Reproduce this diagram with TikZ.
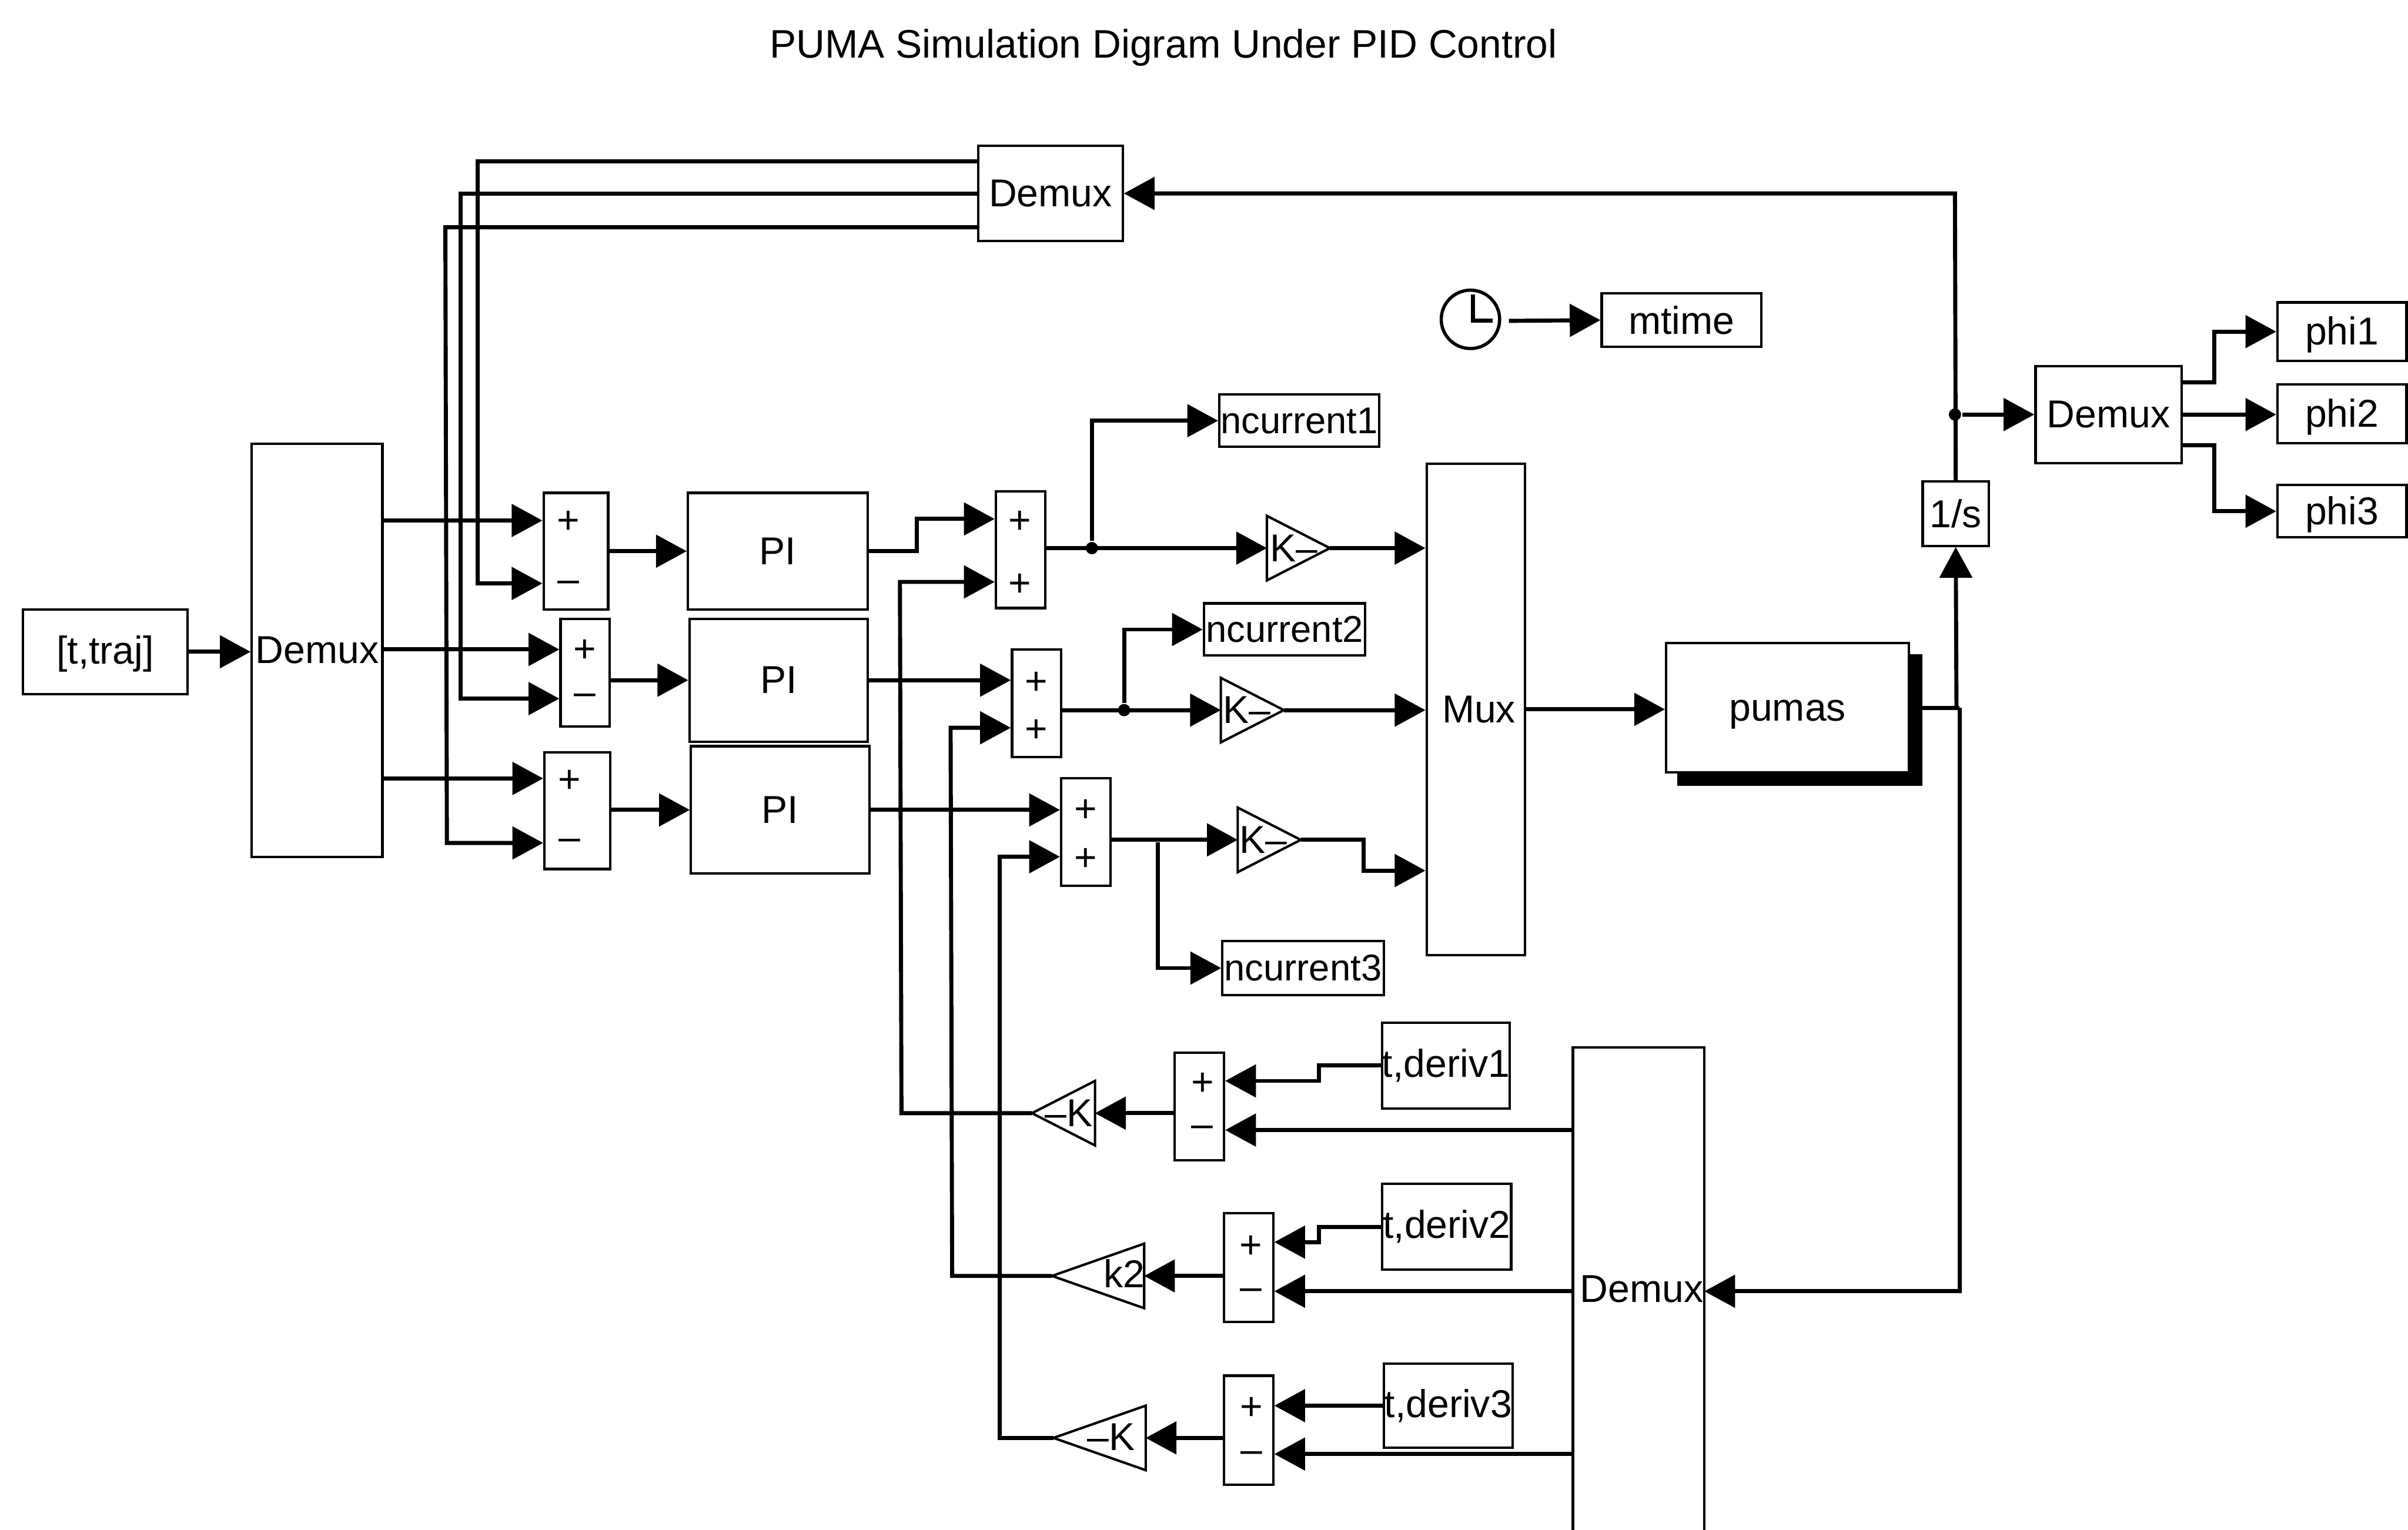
\documentclass[tikz,border=0pt]{standalone}
\usepackage{fontspec}
\setmainfont{Liberation Sans}
\usetikzlibrary{positioning, arrows.meta, shapes.geometric}
\tikzset{
    blockbox/.style={draw, fill=white, line width=0.45pt, inner sep=0pt, font=\fontsize{7.2}{8}\selectfont},
    curbox/.style={blockbox, font=\fontsize{6.9}{8}\selectfont},
    phibox/.style={blockbox, text height=0.17cm, text depth=0pt},
    plainlabel/.style={inner sep=0pt, font=\fontsize{7.2}{8}\selectfont},
    feed/.style={line width=0.75pt},
    wire/.style={line width=0.75pt, -{Triangle[length=0.2cm, width=0.21cm]}},
    junction/.style={circle, fill=black, inner sep=0pt, minimum size=0.08cm},
    gainright/.style={draw, fill=white, line width=0.45pt, isosceles triangle, isosceles triangle stretches, inner sep=0pt, outer sep=0pt, minimum width=0.42cm, minimum height=0.41cm, anchor=apex},
    gainleft/.style={gainright, shape border rotate=180}
}
\begin{document}
\begin{tikzpicture}[x=0.01cm, y=-0.01cm]
    \useasboundingbox (0,0) rectangle (1568,996.2);
    \node[plainlabel, font=\fontsize{7.37}{8}\selectfont] (title) at (757.5,31) {PUMA Simulation Digram Under PID Control};

    % reference side
    \node[blockbox, minimum width=1.07cm, minimum height=0.55cm, text height=0.16cm, text depth=0pt] (traj) at (68.5,424.5) {[t,traj]};
    \node[blockbox, minimum width=0.85cm, minimum height=2.69cm] (demuxa) at (206.5,423.5) {Demux};
    \node[blockbox, minimum width=0.94cm, minimum height=0.62cm] (demuxb) at (684,126) {Demux};
    \node[blockbox, minimum width=0.42cm, minimum height=0.76cm] (sum1) at (375,359) {};
    \node[blockbox, minimum width=0.32cm, minimum height=0.70cm] (sum2) at (381,438) {};
    \node[blockbox, minimum width=0.43cm, minimum height=0.76cm] (sum3) at (376,528) {};
    \node[blockbox, minimum width=1.17cm, minimum height=0.76cm] (pi1) at (506.5,359) {PI};
    \node[blockbox, minimum width=1.16cm, minimum height=0.80cm] (pi2) at (507,443) {PI};
    \node[blockbox, minimum width=1.16cm, minimum height=0.83cm] (pi3) at (508,527.5) {PI};
    \node[plainlabel] (sum1a) at (370,340) {+};
    \node[plainlabel] (sum1b) at (370,382) {–};
    \node[plainlabel] (sum2a) at (381,424) {+};
    \node[plainlabel] (sum2b) at (381,455.5) {–};
    \node[plainlabel] (sum3a) at (371,509) {+};
    \node[plainlabel] (sum3b) at (371,550) {–};

    % torque side
    \node[blockbox, minimum width=0.32cm, minimum height=0.76cm] (sum4) at (664.5,358) {};
    \node[blockbox, minimum width=0.32cm, minimum height=0.70cm] (sum5) at (675,458) {};
    \node[blockbox, minimum width=0.32cm, minimum height=0.70cm] (sum6) at (707,542) {};
    \node[plainlabel] (sum4a) at (664,340) {+};
    \node[plainlabel] (sum4b) at (664,381) {+};
    \node[plainlabel] (sum5a) at (675,445) {+};
    \node[plainlabel] (sum5b) at (675,476) {+};
    \node[plainlabel] (sum6a) at (707,528) {+};
    \node[plainlabel] (sum6b) at (707,560) {+};
    \node[gainright] (gain1) at (866,357) {};
    \node[gainright] (gain2) at (836,462.5) {};
    \node[gainright] (gain3) at (847,547) {};
    \node[plainlabel] (gain1t) at (842.5,357) {K–};
    \node[plainlabel] (gain2t) at (812,462.5) {K–};
    \node[plainlabel] (gain3t) at (822.5,547) {K–};
    \node[curbox, minimum width=1.04cm, minimum height=0.34cm] (cur1) at (846,274) {ncurrent1};
    \node[curbox, minimum width=1.05cm, minimum height=0.34cm] (cur2) at (836.5,410) {ncurrent2};
    \node[curbox, minimum width=1.05cm, minimum height=0.35cm] (cur3) at (848.5,630.5) {ncurrent3};
    \node[blockbox, minimum width=0.64cm, minimum height=3.20cm] (mux) at (961,462) {\hspace*{0.04cm}Mux};
    \node[draw, fill=black, minimum width=1.58cm, minimum height=0.84cm] (pumashade) at (1172,469) {};
    \node[blockbox, minimum width=1.58cm, minimum height=0.84cm, text height=0.17cm, text depth=0pt] (pumas) at (1164,461) {pumas};

    % clock and outputs
    \node[draw, circle, line width=0.6pt, fill=white, minimum size=0.38cm, inner sep=0pt] (clock) at (957.5,208) {};
    \draw[feed] (clock.north) ++(1.5,4) -- (959,209) -- (972,209);
    \node[blockbox, minimum width=1.04cm, minimum height=0.35cm] (mtime) at (1095,208.5) {mtime};
    \node[blockbox, minimum width=0.43cm, minimum height=0.42cm] (integ) at (1273.5,334.5) {1/s};
    \node[blockbox, minimum width=0.95cm, minimum height=0.63cm] (demuxc) at (1373,270) {Demux};
    \node[phibox, minimum width=0.84cm, minimum height=0.38cm] (phi1) at (1525,216) {phi1};
    \node[phibox, minimum width=0.84cm, minimum height=0.38cm] (phi2) at (1525,269.5) {phi2};
    \node[phibox, minimum width=0.84cm, minimum height=0.34cm] (phi3) at (1525,333) {phi3};

    % derivative side
    \node[blockbox, minimum width=0.32cm, minimum height=0.70cm] (sum7) at (781,720.5) {};
    \node[blockbox, minimum width=0.32cm, minimum height=0.71cm] (sum8) at (813,825.5) {};
    \node[blockbox, minimum width=0.32cm, minimum height=0.71cm] (sum9) at (813,931.5) {};
    \node[plainlabel] (sum7a) at (783,706) {+};
    \node[plainlabel] (sum7b) at (783,737) {–};
    \node[plainlabel] (sum8a) at (814.5,812) {+};
    \node[plainlabel] (sum8b) at (814.5,843) {–};
    \node[plainlabel] (sum9a) at (815,917.5) {+};
    \node[plainlabel] (sum9b) at (815,949) {–};
    \node[gainleft] (gain4) at (672,725) {};
    \node[gainleft, minimum height=0.60cm] (gain5) at (685,831) {};
    \node[gainleft, minimum height=0.60cm] (gain6) at (686,936.5) {};
    \node[plainlabel] (gain4t) at (696,725) {–K};
    \node[plainlabel] (gain5t) at (732,829.5) {k2};
    \node[plainlabel] (gain6t) at (723.5,936) {–K};
    \node[blockbox, minimum width=0.83cm, minimum height=0.56cm] (deriv1) at (941.5,694) {t,deriv1};
    \node[blockbox, minimum width=0.84cm, minimum height=0.56cm] (deriv2) at (942,799) {t,deriv2};
    \node[blockbox, minimum width=0.84cm, minimum height=0.55cm] (deriv3) at (943,915.5) {t,deriv3};
    \node[plainlabel, minimum width=0.84cm, minimum height=3.13cm] (demuxd) at (1067,839.5) {\hspace*{0.04cm}Demux};
    \draw[line width=0.45pt] (demuxd.south west) -- (demuxd.north west) -- (demuxd.north east) -- (demuxd.south east);

    % forward path
    \draw[wire] (traj.east) -- (demuxa.west |- traj.east);
    \draw[wire] (demuxa.east |- 0,339) -- (sum1.west |- 0,339);
    \draw[wire] (demuxa.east |- 0,423) -- (sum2.west |- 0,423);
    \draw[wire] (demuxa.east |- 0,507) -- (sum3.west |- 0,507);
    \draw[wire] (demuxb.west |- 0,105) -- (311,105) -- (311,380) -- (sum1.west |- 0,380);
    \draw[wire] (demuxb.west |- 0,126) -- (300,126) -- (300,455) -- (sum2.west |- 0,455);
    \draw[wire] (demuxb.west |- 0,148) -- (290,148) -- (291,549) -- (sum3.west |- 0,549);
    \draw[wire] (sum1.east) -- (pi1.west);
    \draw[wire] (sum2.east |- pi2.west) -- (pi2.west);
    \draw[wire] (sum3.east |- pi3.west) -- (pi3.west);
    \draw[wire] (pi1.east) -- (597,359) -- (597,338) -- (sum4.west |- 0,338);
    \draw[wire] (pi2.east) -- (sum5.west |- pi2.east);
    \draw[wire] (pi3.east) -- (sum6.west |- pi3.east);

    \node[junction] (dot1) at (711,357) {};
    \node[junction] (dot2) at (732,462.5) {};
    \node[junction, minimum size=0.02cm] (dot3) at (754,547) {};
    \draw[wire] (sum4.east |- gain1.lower side) -- (gain1.lower side);
    \draw[wire] (sum5.east |- gain2.lower side) -- (gain2.lower side);
    \draw[wire] (sum6.east |- gain3.lower side) -- (gain3.lower side);
    \draw[wire] (dot1) -- (dot1 |- cur1.west) -- (cur1.west);
    \draw[wire] (dot2) -- (dot2 |- cur2.west) -- (cur2.west);
    \draw[wire] (dot3) -- (dot3 |- cur3.west) -- (cur3.west);
    \draw[wire] (gain1.apex) -- (mux.west |- gain1.apex);
    \draw[wire] (gain2.apex) -- (mux.west |- gain2.apex);
    \draw[wire] (gain3.apex) -- (888,547) -- (888,567) -- (mux.west |- 0,567);
    \draw[wire] (mux.east) -- (pumas.west |- mux.east);

    % feedback from the plant
    \draw[feed] (pumashade.east |- 0,461) -- (1276,461);
    \draw[wire] (1274,461) -- (integ.south);
    \draw[wire] (1276,461) -- (1276,841) -- (demuxd.east |- 0,841);
    \draw[wire] (integ.north) -- (1273,126) -- (demuxb.east);
    \node[junction] (dot4) at (1273,270) {};
    \draw[wire] (dot4) -- (demuxc.west);
    \draw[wire] (demuxc.east |- 0,249) -- (1442,249) -- (1442,216) -- (phi1.west);
    \draw[wire] (demuxc.east) -- (phi2.west |- demuxc.east);
    \draw[wire] (demuxc.east |- 0,290) -- (1442,290) -- (1442,333) -- (phi3.west);
    \draw[wire] (clock.east) ++(5,1) -- (mtime.west);

    % derivative path
    \draw[wire] (deriv1.west) -- (859,694) -- (859,704) -- (sum7.east |- 0,704);
    \draw[wire] (deriv2.west |- 0,799) -- (859,799) -- (859,809) -- (sum8.east |- 0,809);
    \draw[wire] (deriv3.west) -- (sum9.east |- deriv3.west);
    \draw[wire] (demuxd.west |- 0,736) -- (sum7.east |- 0,736);
    \draw[wire] (demuxd.west |- 0,841) -- (sum8.east |- 0,841);
    \draw[wire] (demuxd.west |- 0,947) -- (sum9.east |- 0,947);
    \draw[wire] (sum7.west |- gain4.lower side) -- (gain4.lower side);
    \draw[wire] (sum8.west |- gain5.lower side) -- (gain5.lower side);
    \draw[wire] (sum9.west |- gain6.lower side) -- (gain6.lower side);
    \draw[wire] (gain4.apex) -- (587,725) -- (586,379) -- (sum4.west |- 0,379);
    \draw[wire] (gain5.apex) -- (620,831) -- (619,474) -- (sum5.west |- 0,474);
    \draw[wire] (gain6.apex) -- (651,936.5) -- (651,558) -- (sum6.west |- 0,558);
\end{tikzpicture}
\end{document}
